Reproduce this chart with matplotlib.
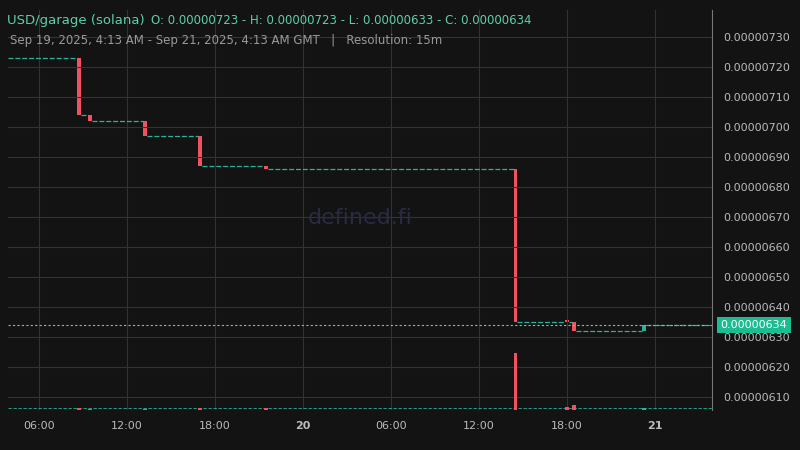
import matplotlib
matplotlib.use("Agg")
import matplotlib.pyplot as plt
import numpy as np

# hours since Sep 19 00:00 GMT
candle_times = [8.75, 9.5, 13.25, 17.0, 21.5, 38.5, 42.0, 42.5, 47.25]
candle_open  = [7.23, 7.04, 7.02, 6.97, 6.87, 6.86, 6.353, 6.35, 6.32]
candle_close = [7.04, 7.02, 6.97, 6.87, 6.86, 6.35, 6.35, 6.32, 6.34]
vol_times = [8.75, 9.5, 13.25, 17.0, 21.5, 38.5, 42.0, 42.5, 47.25]
vol_values = [1.0, 0.6, 0.5, 1.2, 1.0, 30.0, 1.5, 2.5, 1.0]
start, end = 3.89, 51.89
last_price = 6.34
yticks = [6.10, 6.20, 6.30, 6.40, 6.50, 6.60, 6.70, 6.80, 6.90, 7.00, 7.10, 7.20, 7.30]
xticks = [6, 12, 18, 24, 30, 36, 42, 48]
xlabels = ["06:00", "12:00", "18:00", "20", "06:00", "12:00", "18:00", "21"]

bg = "#131313"; green = "#2bb39a"; red = "#f0535f"; grid = "#333333"; txt = "#bbbbbb"
fig = plt.figure(figsize=(8, 4.5), dpi=100, facecolor=bg)
ax = fig.add_axes([0.01, 0.089, 0.88, 0.889], facecolor=bg)
ax.set_xlim(start, end)
ax.set_ylim(6.057, 7.39)
w = 0.25
pts = [start] + candle_times + [end]
levels = [candle_open[0]] + candle_close
for i in range(len(pts) - 1):
    ax.hlines(levels[i], pts[i] + (w/2 if i else 0), pts[i+1] - w/2, color=green, lw=0.9, linestyles=(0, (4, 1.5)))
for t, o, c in zip(candle_times, candle_open, candle_close):
    col = green if c >= o else red
    ax.bar(t, max(abs(c - o), 0.008), bottom=min(o, c), width=w, color=col, align="center")
ax.axhline(last_price, color="#aaaaaa", lw=0.8, ls=(0, (2, 2)))
vax = ax.twinx()
vax.set_ylim(0, 210)
vax.axis("off")
vax.bar(vol_times, vol_values, width=w, color=[red if c < o else green for o, c in zip(candle_open, candle_close)])
ax.axhline(6.057 + 0.005, color=green, lw=0.6, ls=(0, (4, 2)))

ax.yaxis.tick_right()
ax.set_yticks(yticks)
ax.set_yticklabels([f"{v/1e6:.8f}" for v in yticks], fontsize=8, color=txt)
ax.set_xticks(xticks)
ax.set_xticklabels(xlabels, fontsize=8, color=txt)
for lbl, s in zip(ax.get_xticklabels(), xlabels):
    if s in ("20", "21"):
        lbl.set_fontweight("bold")
ax.tick_params(length=0, pad=8)
ax.grid(color=grid, lw=0.8)
for s in ["top", "left", "bottom"]:
    ax.spines[s].set_visible(False)
ax.spines["right"].set_color("#777777")
ax.text(0.5, 0.48, "defined.fi", transform=ax.transAxes, ha="center", va="center",
        fontsize=16, color="#2a2a44")
ax.text(1.012, last_price, f"{last_price/1e6:.8f}", transform=ax.get_yaxis_transform(),
        va="center", ha="left", fontsize=8, color="white",
        bbox=dict(boxstyle="square,pad=0.3", fc="#1bbc8f", ec="none"))
fig.text(0.009, 0.955, "USD/garage (solana)", fontsize=9.5, color="#5ecfa8", va="center")
fig.text(0.189, 0.955, "O: 0.00000723 - H: 0.00000723 - L: 0.00000633 - C: 0.00000634",
         fontsize=8.5, color="#5ecfa8", va="center")
fig.text(0.012, 0.91, "Sep 19, 2025, 4:13 AM - Sep 21, 2025, 4:13 AM GMT   |   Resolution: 15m",
         fontsize=8.5, color="#9a9a9a", va="center")
fig.savefig("out.png", facecolor=bg)
